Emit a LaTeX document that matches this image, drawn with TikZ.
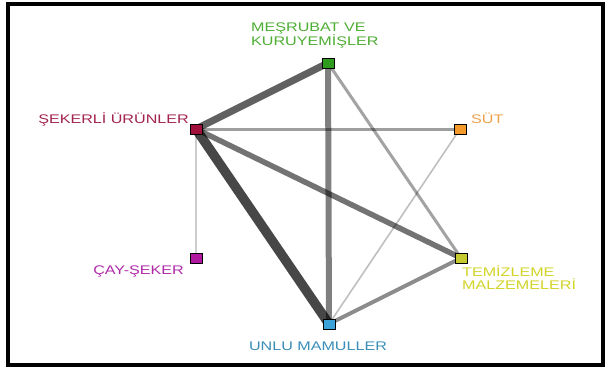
\documentclass[tikz,border=0pt]{standalone}
\usepackage{fontspec}
\newfontfamily\lab[FakeStretch=1.29]{Liberation Sans}
\pgfdeclarelayer{back}
\pgfdeclarelayer{bg}
\pgfsetlayers{back,bg,main}
\definecolor{cMes}{HTML}{2E9A1E}
\definecolor{tMes}{HTML}{4FAE35}
\definecolor{cSek}{HTML}{A0103A}
\definecolor{tSek}{HTML}{A3244E}
\definecolor{cSut}{HTML}{F39A2A}
\definecolor{tSut}{HTML}{EEA24A}
\definecolor{cCay}{HTML}{B0189F}
\definecolor{tCay}{HTML}{B02AA8}
\definecolor{cTem}{HTML}{C4CA30}
\definecolor{tTem}{HTML}{D2D428}
\definecolor{cUnl}{HTML}{3AA2D8}
\definecolor{tUnl}{HTML}{3A8EB8}
\tikzset{
  sq/.style={draw=black, line width=0.9pt, minimum width=12pt, minimum height=10pt, inner sep=0pt},
  lbl/.style={inner sep=0pt, font=\lab\fontsize{12.5}{13}\selectfont},
  link/.style={line width=#1, draw=black, line cap=butt}
}
\begin{document}
\begin{tikzpicture}[x=1pt,y=-1pt]
\useasboundingbox (0,0) rectangle (607,367);
\begin{pgfonlayer}{back}
\fill[white] (0,0) rectangle (607,367);
\end{pgfonlayer}
\draw[line width=4pt] (8,4) rectangle (603,364.7);
% nodes
\node[sq, fill=cMes] (mes) at (328,63) {};
\node[sq, fill=cSek] (sek) at (196,129) {};
\node[sq, fill=cSut] (sut) at (460,129) {};
\node[sq, fill=cCay] (cay) at (196,258) {};
\node[sq, fill=cTem] (tem) at (461,258) {};
\node[sq, fill=cUnl] (unl) at (329,324) {};
% labels
\node[lbl, text=tMes, align=left, anchor=west] (lmes) at (251,35.5) {MEŞRUBAT VE\\KURUYEMİŞLER};
\node[lbl, text=tSek, anchor=east] (lsek) at (189,119) {ŞEKERLİ ÜRÜNLER};
\node[lbl, text=tSut, anchor=west] (lsut) at (471,118) {SÜT};
\node[lbl, text=tCay, anchor=east] (lcay) at (184,271) {ÇAY-ŞEKER};
\node[lbl, text=tTem, align=left, anchor=west] (ltem) at (462,278) {TEMİZLEME\\MALZEMELERİ};
\node[lbl, text=tUnl, anchor=center] (lunl) at (318,346.5) {UNLU MAMULLER};
% links
\begin{pgfonlayer}{bg}
\draw[link=9.5pt, draw opacity=0.72] (sek.center) -- (unl.center);
\draw[link=7pt, draw opacity=0.62] (sek.center) -- (mes.center);
\draw[link=5.5pt, draw opacity=0.55] (sek.center) -- (tem.center);
\draw[link=6pt, draw opacity=0.5] (mes.center) -- (unl.center);
\draw[link=4pt, draw opacity=0.45] (tem.center) -- (unl.center);
\draw[link=3pt, draw opacity=0.38] (sek.center) -- (sut.center);
\draw[link=3pt, draw opacity=0.36] (mes.center) -- (tem.center);
\draw[link=1.6pt, draw opacity=0.25] (sut.center) -- (unl.center);
\draw[link=2pt, draw opacity=0.2] (sek.center) -- (cay.center);
\end{pgfonlayer}
\end{tikzpicture}
\end{document}
